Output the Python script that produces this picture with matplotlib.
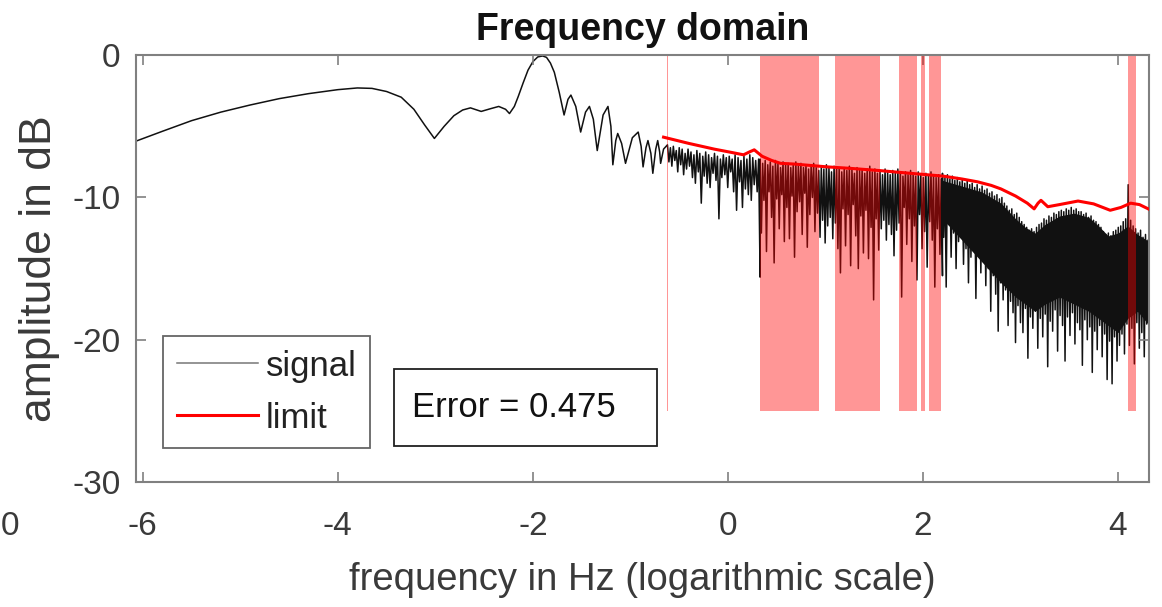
import numpy as np
import matplotlib
matplotlib.use("Agg")
import matplotlib.pyplot as plt
from matplotlib.patches import Rectangle

plt.rcParams['font.family'] = ['Liberation Sans', 'DejaVu Sans']
plt.rcParams['axes.unicode_minus'] = False

# ---------------------------------------------------
# Data (x = log10 frequency, y = dB)
# ---------------------------------------------------

# smooth low-frequency part of the signal
smooth_x = [-6.07, -5.8, -5.5, -5.2, -4.9, -4.6, -4.3, -4.0, -3.8, -3.65, -3.5, -3.35,
            -3.22, -3.11, -3.01, -2.91, -2.81, -2.72, -2.64, -2.53, -2.43, -2.35, -2.28,
            -2.24, -2.19, -2.15, -2.10, -2.05, -2.00, -1.95, -1.90, -1.86, -1.82, -1.78,
            -1.73, -1.68]
smooth_y = [-6.04, -5.35, -4.6, -4.0, -3.5, -3.05, -2.7, -2.42, -2.3, -2.33, -2.55, -2.95,
            -3.8, -4.9, -5.85, -5.0, -4.25, -3.85, -3.7, -3.95, -3.75, -3.6, -3.8,
            -4.1, -3.6, -2.9, -1.95, -1.05, -0.45, -0.12, -0.05, -0.15, -0.55, -1.2,
            -2.6, -4.2]

# ripples
ripple_x = [-1.64, -1.61, -1.56, -1.51, -1.46, -1.42, -1.38, -1.34, -1.28, -1.23, -1.20,
            -1.18, -1.15, -1.13, -1.09, -1.05, -0.98, -0.92, -0.89, -0.87, -0.84, -0.82,
            -0.79, -0.77, -0.74, -0.72, -0.70, -0.69, -0.66, -0.64]
ripple_y = [-3.1, -2.8, -3.6, -5.4, -4.0, -3.6, -4.5, -6.7, -4.2, -3.6, -5.0,
            -7.7, -6.0, -5.5, -6.2, -7.6, -5.8, -5.4, -6.4, -7.85, -6.5, -6.0,
            -6.9, -8.3, -6.6, -6.0, -6.8, -7.6, -6.6, -6.45]

# noisy part, segment A (-0.62 .. 0.33): spike tops / bottoms
seg_a = (-0.62, 0.33)
hi_a = [-6.3, -6.5, -6.4, -6.7, -6.5, -6.6, -6.9, -6.6, -6.8, -7.0,
        -6.7, -6.9, -7.1, -6.8, -7.0, -7.2, -6.9, -7.1, -7.3, -7.0,
        -7.2, -7.1, -7.3, -7.0, -7.2, -7.4, -7.1, -7.3, -7.0, -7.2,
        -7.4, -7.3]
lo_a = [-7.5, -7.8, -7.4, -8.2, -7.7, -8.4, -8.0, -7.8, -8.6, -9.0,
        -8.2, -10.4, -8.5, -9.0, -9.3, -8.3, -8.8, -11.5, -8.6, -8.4,
        -9.3, -8.2, -9.6, -10.9, -8.9, -10.7, -9.4, -9.8, -10.2, -9.1,
        -9.6, -15.6]

# segment B (0.33 .. 2.2)
seg_b = (0.33, 2.2)
hi_b = [-7.3, -7.6, -7.4, -7.7, -7.5, -7.8, -7.4, -7.6, -7.9, -7.5,
        -7.7, -7.6, -7.9, -7.7, -7.5, -7.8, -7.6, -7.9, -7.7, -8.0,
        -7.8, -7.6, -7.9, -8.1, -7.8, -8.0, -7.7, -7.9, -8.2, -7.8,
        -8.0, -7.9, -8.2, -7.9, -8.1, -7.8, -8.0, -8.3, -7.9, -8.1,
        -8.0, -8.3, -8.0, -7.8, -8.2, -8.0, -8.3, -8.1, -8.4, -8.0,
        -8.2, -8.4, -8.1, -8.3, -8.0, -8.2, -8.5, -8.2, -8.4, -8.1,
        -8.3, -8.5, -8.2, -8.4, -8.6, -8.3, -8.5, -8.2, -8.4, -8.6,
        -8.4, -8.7]
lo_b = [-12.5, -10.2, -13.8, -9.6, -11.4, -14.6, -10.1, -12.2, -9.8, -13.1,
        -10.7, -12.9, -9.9, -14.2, -11.0, -10.3, -12.6, -9.7, -13.5, -11.2,
        -10.0, -12.4, -11.1, -12.8, -11.6, -13.2, -12.0, -11.4, -12.9, -11.8,
        -13.6, -15.3, -10.8, -13.4, -11.2, -14.8, -10.5, -12.7, -15.0, -11.3,
        -13.9, -10.9, -14.3, -12.1, -17.2, -11.5, -13.7, -12.2, -11.6, -13.0,
        -11.9, -12.6, -14.1, -12.3, -11.8, -17.0, -10.7, -13.3, -11.5, -14.5,
        -12.0, -15.8, -11.2, -13.6, -12.4, -14.9, -11.7, -13.0, -16.3, -12.2,
        -14.0, -15.5]

# segment C (2.2 .. 4.32)
seg_c = (2.2, 4.32)
hi_c = [-8.3, -8.6, -8.4, -8.7, -8.5, -8.8, -8.6, -8.9, -8.7,
        -9.0, -8.8, -9.1, -9.0, -9.3, -9.1, -9.4, -9.2,
        -9.5, -9.4, -9.7, -9.6, -9.9, -9.8, -10.1, -10.0,
        -10.4, -10.6, -10.9, -10.8, -11.2, -11.1, -11.4,
        -11.7, -11.9, -12.1, -12.3, -12.2, -12.4, -12.1, -11.9,
        -11.8, -11.5, -11.6, -11.3, -11.4, -11.1, -11.2, -11.0,
        -10.9, -11.0, -10.8, -10.9, -10.7, -10.9, -10.8, -11.0,
        -11.0, -11.2, -11.1, -11.4, -11.3, -11.6, -11.7, -11.9,
        -12.1, -12.4, -12.6, -12.5, -12.7, -12.4, -12.3, -12.1,
        -12.0, -11.7, -11.5, -9.1, -11.6, -12.0,
        -12.2, -12.5, -12.3, -12.8, -12.6, -13.0]
lo_c = [-12.8, -16.3, -11.9, -14.2, -12.5, -15.0, -13.1, -12.2, -14.7,
        -13.6, -16.0, -14.2, -13.4, -17.1, -14.0, -15.3, -14.5,
        -16.2, -15.0, -18.0, -15.5, -16.8, -19.4, -16.0, -17.2,
        -16.5, -19.0, -17.3, -18.1, -20.2, -17.6, -18.8,
        -19.5, -17.8, -21.3, -18.4, -19.2, -18.0, -20.6, -18.5,
        -19.8, -18.2, -21.9, -18.7, -19.4, -17.9, -20.8, -18.3,
        -19.0, -21.5, -18.4, -19.7, -18.1, -20.3, -18.8, -19.3,
        -21.8, -18.6, -20.0, -19.1, -22.3, -19.4, -20.7, -19.0,
        -21.2, -19.6, -22.8, -20.1, -23.1, -19.8, -21.5, -20.4,
        -19.6, -21.0, -18.9, -20.4, -19.2, -21.7,
        -18.8, -20.6, -19.5, -21.2, -18.9, -20.0]

# dense black core of segment C
core_x = [2.2, 2.4, 2.6, 2.8, 2.95, 3.05, 3.15, 3.25, 3.4, 3.55, 3.7, 3.8, 3.9, 4.0,
          4.1, 4.2, 4.32]
core_top = [-8.8, -9.2, -9.6, -10.4, -11.5, -12.1, -12.5, -11.9, -11.3, -11.1, -11.4,
            -12.0, -12.7, -12.5, -12.0, -12.6, -13.1]
core_bot = [-11.5, -13.0, -14.5, -16.0, -17.0, -17.5, -18.0, -17.5, -17.0, -17.5, -18.0,
            -18.5, -19.0, -19.5, -18.5, -18.0, -19.0]

# limit curve
limit_x = [-0.66, -0.4, -0.14, 0.05, 0.16, 0.22, 0.27, 0.35, 0.45, 0.54, 0.68, 0.85,
           1.02, 1.25, 1.54, 1.87, 2.21, 2.4, 2.56, 2.7, 2.80, 2.95, 3.07, 3.14, 3.18,
           3.21, 3.28, 3.40, 3.59, 3.75, 3.92, 4.03, 4.13, 4.22, 4.31]
limit_y = [-5.76, -6.2, -6.6, -6.85, -7.0, -6.8, -6.65, -7.1, -7.4, -7.6, -7.65, -7.75,
           -7.85, -7.95, -8.1, -8.3, -8.5, -8.7, -8.9, -9.15, -9.4, -9.9, -10.4, -10.8, -10.4,
           -10.2, -10.65, -10.5, -10.25, -10.45, -10.9, -10.7, -10.4, -10.5, -10.8]

# violation bands (start, end) and their lower edge
band_start = [-0.624, 0.33, 1.10, 1.75, 1.98, 2.06, 4.10]
band_end = [-0.619, 0.93, 1.56, 1.94, 2.02, 2.19, 4.18]
band_floor = -25

error_value = 0.475


def zigzag(seg, hi, lo):
    xs = np.linspace(seg[0], seg[1], 2 * len(hi))
    ys = np.empty(2 * len(hi))
    ys[0::2] = hi
    ys[1::2] = lo
    return xs, ys


# ---------------------------------------------------
# Plot
# ---------------------------------------------------
fig = plt.figure(figsize=(11.62, 6.07), dpi=100)
ax = fig.add_axes([0.117, 0.206, 0.872, 0.703])

txt = '#3a3a3a'
sig_col = '#111111'

xa, ya = zigzag(seg_a, hi_a, lo_a)
xb, yb = zigzag(seg_b, hi_b, lo_b)
xc, yc = zigzag(seg_c, hi_c, lo_c)
sig_x = np.concatenate([smooth_x, ripple_x, xa, xb, xc])
sig_y = np.concatenate([smooth_y, ripple_y, ya, yb, yc])

ax.plot(sig_x, sig_y, color=sig_col, lw=1.1, zorder=1, label='signal')
ax.fill_between(core_x, core_top, core_bot, color=sig_col, lw=0, zorder=1)

widths = np.array(band_end) - np.array(band_start)
ax.bar(band_start, -band_floor, width=widths, bottom=band_floor, align='edge',
       color='red', alpha=0.41, lw=0, zorder=2)

ax.plot(limit_x, limit_y, color='#ff0000', lw=2.2, zorder=3, label='limit')

ax.set_xlim(-6.07, 4.32)
ax.set_ylim(-30, 0)
ax.set_xticks([-6, -4, -2, 0, 2, 4])
ax.set_yticks([0, -10, -20, -30])
ax.tick_params(direction='in', top=True, right=True, length=7, width=1.2,
               colors='#808080', labelcolor=txt, labelsize=24)
ax.tick_params(axis='x', pad=21)
ax.tick_params(axis='y', pad=11)
for s in ax.spines.values():
    s.set_color('#808080')
    s.set_linewidth(1.5)

ax.set_title('Frequency domain', fontsize=27, fontweight='bold', color='#111111', pad=11)
ax.set_xlabel('frequency in Hz (logarithmic scale)', fontsize=27.5, color=txt, labelpad=14)
ax.set_ylabel('amplitude in dB', fontsize=32, color=txt, labelpad=9)

leg = ax.legend(loc='lower left', bbox_to_anchor=(0.027, 0.08), borderaxespad=0,
                fontsize=25, frameon=True, fancybox=False, handlelength=2.35,
                handletextpad=0.22, labelspacing=0.55, borderpad=0.38)
leg.get_frame().set_edgecolor('#404040')
leg.get_frame().set_linewidth(1.3)
for t in leg.get_texts():
    t.set_color('#222222')
leg.get_lines()[0].set_color('#777777')

ax.add_patch(Rectangle((0.2547, 0.0843), 0.2596, 0.180, transform=ax.transAxes,
                       fill=False, edgecolor='#202020', lw=1.3, zorder=5))
ax.text(0.2725, 0.1756, f'Error = {error_value}', transform=ax.transAxes,
        fontsize=25, color='#111111', va='center', ha='left', zorder=5)

fig.text(0.001, 0.132, '0', fontsize=24, color=txt, ha='left', va='center')

fig.savefig('out.png', dpi=100)
